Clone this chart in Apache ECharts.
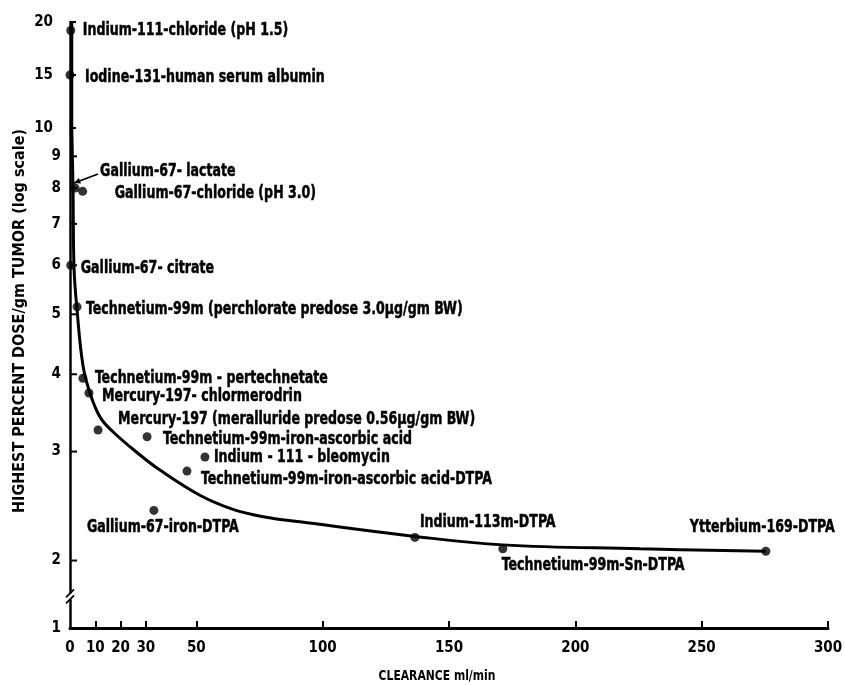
<!DOCTYPE html>
<html><head><meta charset="utf-8">
<script src="https://cdn.jsdelivr.net/npm/echarts@6/dist/echarts.min.js"></script>
<style>html,body{margin:0;padding:0;background:#fff}#c{width:845px;height:685px}</style>
</head><body><div id="c"></div>
<script>
// ---------------- data ----------------
const names = [
  'Indium-111-chloride (pH 1.5)',
  'Iodine-131-human serum albumin',
  'Gallium-67- lactate',
  'Gallium-67-chloride (pH 3.0)',
  'Gallium-67- citrate',
  'Technetium-99m (perchlorate predose 3.0\u03bcg/gm BW)',
  'Technetium-99m - pertechnetate',
  'Mercury-197- chlormerodrin',
  'Mercury-197 (meralluride predose 0.56\u03bcg/gm BW)',
  'Technetium-99m-iron-ascorbic acid',
  'Indium - 111 - bleomycin',
  'Technetium-99m-iron-ascorbic acid-DTPA',
  'Gallium-67-iron-DTPA',
  'Indium-113m-DTPA',
  'Technetium-99m-Sn-DTPA',
  'Ytterbium-169-DTPA'
];
const clearance = [0.3, 0, 2, 5, 0.3, 2.8, 5.1, 7.5, 11.1, 30.5, 53.4, 46.3, 33.2, 136.5, 171.3, 275.4];
const dose      = [19.2, 15, 8.0, 7.9, 6.0, 5.14, 3.94, 3.73, 3.25, 3.17, 2.94, 2.79, 2.41, 2.18, 2.09, 2.07];

const curveX = [0.7, 0.7, 1.2, 1.6, 2.8, 5.1, 7.9, 11.9, 17, 26.5, 35.6, 51.4, 64.5, 77.6, 91, 135.7, 171.3, 225.6, 275.4];
const curveY = [20, 10, 7.94, 5.94, 5.08, 4.14, 3.73, 3.41, 3.23, 2.99, 2.80, 2.55, 2.42, 2.35, 2.31, 2.19, 2.12, 2.09, 2.07];

const xTickValues = [0, 10, 20, 30, 50, 100, 150, 200, 250, 300];
const yTicksUpper = [10, 15, 20];
const yTicksLower = [2, 3, 4, 5, 6, 7, 8, 9];
const yBottomLabel = '1';
const xAxisTitle = 'CLEARANCE ml/min';
const yAxisTitle = 'HIGHEST PERCENT DOSE/gm TUMOR (log scale)';

// ---------------- layout / style ----------------
const FONT = "'DejaVu Sans Condensed','DejaVu Sans',sans-serif";
const LABEL_FONT = 'bold 14px ' + FONT;
const labelOffsets = [
  [12, 0], [15, 3], [25, -16], [32, 2], [10, 3], [9, 3], [12, 0], [13, 4],
  [20, -10], [16, 3], [9, 1], [14, 8], [-67, 17], [5, -15], [-1, 17], [-76, -24]
];
const LOWER_MIN = 1.556, BREAK_VAL = 1.75, SPLIT = 10;

const chart = echarts.init(document.getElementById('c'), null, {renderer: 'canvas'});

function idxFor(upper) {
  const out = [];
  names.forEach((n, i) => { if ((dose[i] > SPLIT) === upper) out.push(i); });
  return out;
}
const upperIdx = idxFor(true), lowerIdx = idxFor(false);

function labelSeries(gi, idxs) {
  return {
    type: 'custom', xAxisIndex: gi, yAxisIndex: gi, silent: true, clip: false, z: 5,
    data: idxs.map(i => [clearance[i], dose[i]]),
    renderItem: (params, api) => {
      const i = idxs[params.dataIndex];
      const p = api.coord([api.value(0), api.value(1)]);
      return {type: 'text', x: p[0] + labelOffsets[i][0], y: p[1] + labelOffsets[i][1], scaleY: 1.22,
        style: {text: names[i], font: LABEL_FONT, fill: '#000', align: 'left', verticalAlign: 'middle',
          stroke: '#000', lineWidth: 0.4}};
    }
  };
}

const curveUpper = [], curveLower = [];
curveX.forEach((x, i) => {
  if (curveY[i] >= SPLIT) curveUpper.push([x, curveY[i]]);
  if (curveY[i] <= SPLIT) curveLower.push([x, curveY[i]]);
});

const tickFont = 'bold 15px ' + FONT;
const yLowerTickData = yTicksLower.map(v => ({value: [0, v], txt: String(v), tick: true}))
  .concat([{value: [0, LOWER_MIN], txt: yBottomLabel, tick: false}]);

const li = names.indexOf('Gallium-67- lactate');

chart.setOption({
  animation: false,
  backgroundColor: '#fff',
  grid: [
    {left: 70, top: 22, width: 758, height: 106, outerBoundsMode: 'none', containLabel: false},
    {left: 70, top: 128, width: 758, height: 500, outerBoundsMode: 'none', containLabel: false}
  ],
  xAxis: [
    {gridIndex: 0, type: 'value', min: 0, max: 300, show: false},
    {gridIndex: 1, type: 'value', min: 0, max: 300, position: 'bottom',
      axisLine: {show: true, onZero: false, lineStyle: {color: '#000', width: 3}},
      axisTick: {show: true, inside: true, length: 7, lineStyle: {color: '#000', width: 2},
        customValues: xTickValues.filter(v => v > 0)},
      axisLabel: {show: true, customValues: xTickValues, margin: 13, color: '#000',
        fontFamily: FONT, fontWeight: 'bold', fontSize: 15},
      splitLine: {show: false}}
  ],
  yAxis: [
    {gridIndex: 0, type: 'value', min: 10, max: 20,
      axisLine: {show: true, onZero: false, lineStyle: {color: '#000', width: 2.5}},
      axisTick: {show: true, inside: true, length: 6, lineStyle: {color: '#000', width: 2}, customValues: yTicksUpper},
      axisLabel: {show: true, customValues: yTicksUpper, margin: 17, color: '#000',
        fontFamily: FONT, fontWeight: 'bold', fontSize: 15},
      splitLine: {show: false}},
    {gridIndex: 1, type: 'log', min: LOWER_MIN, max: 10,
      axisLine: {show: true, onZero: false, lineStyle: {color: '#000', width: 2.5}},
      axisTick: {show: false}, axisLabel: {show: false}, splitLine: {show: false}, minorTick: {show: false}}
  ],
  graphic: [
    {type: 'text', x: 20, y: 321, rotation: Math.PI / 2,
      style: {text: yAxisTitle, fill: '#000', font: 'bold 16px ' + FONT, align: 'center', verticalAlign: 'middle'}},
    {type: 'text', x: 437, y: 676, scaleY: 1.15,
      style: {text: xAxisTitle, fill: '#000', font: 'bold 12px ' + FONT, align: 'center', verticalAlign: 'middle'}}
  ],
  series: [
    {type: 'line', xAxisIndex: 0, yAxisIndex: 0, data: curveUpper, showSymbol: false, smooth: false,
      lineStyle: {color: '#000', width: 3}, silent: true},
    {type: 'line', xAxisIndex: 1, yAxisIndex: 1, data: curveLower, showSymbol: false, smooth: 0.4,
      lineStyle: {color: '#000', width: 3}, silent: true},
    {type: 'scatter', xAxisIndex: 0, yAxisIndex: 0, data: upperIdx.map(i => [clearance[i], dose[i]]), symbolSize: 9,
      itemStyle: {color: '#000'}, clip: false},
    {type: 'scatter', xAxisIndex: 1, yAxisIndex: 1, data: lowerIdx.map(i => [clearance[i], dose[i]]), symbolSize: 9,
      itemStyle: {color: '#000'}, clip: false},
    labelSeries(0, upperIdx),
    labelSeries(1, lowerIdx),
    // y tick marks and labels on the log axis
    {type: 'custom', xAxisIndex: 1, yAxisIndex: 1, silent: true, clip: false,
      data: yLowerTickData,
      renderItem: (params, api) => {
        const d = yLowerTickData[params.dataIndex];
        const p = api.coord(d.value);
        const ch = [{type: 'text', x: p[0] - 9, y: p[1],
          style: {text: d.txt, align: 'right', verticalAlign: 'middle', font: tickFont, fill: '#000'}}];
        if (d.tick) ch.push({type: 'line', shape: {x1: p[0], y1: p[1], x2: p[0] + 7, y2: p[1]},
          style: {stroke: '#000', lineWidth: 2}});
        return {type: 'group', children: ch};
      }},
    // axis break symbol
    {type: 'custom', xAxisIndex: 1, yAxisIndex: 1, silent: true, clip: false,
      data: [[0, BREAK_VAL]],
      renderItem: (params, api) => {
        const p = api.coord([api.value(0), api.value(1)]);
        return {type: 'group', children: [
          {type: 'rect', shape: {x: p[0] - 3, y: p[1] - 3, width: 6, height: 6}, style: {fill: '#fff'}},
          {type: 'line', shape: {x1: p[0] - 4, y1: p[1] + 1, x2: p[0] + 4, y2: p[1] - 7}, style: {stroke: '#000', lineWidth: 1.8}},
          {type: 'line', shape: {x1: p[0] - 4, y1: p[1] + 7, x2: p[0] + 4, y2: p[1] - 1}, style: {stroke: '#000', lineWidth: 1.8}}
        ]};
      }},
    // arrow from the lactate label to its point
    {type: 'custom', xAxisIndex: 1, yAxisIndex: 1, silent: true, clip: false,
      data: [[clearance[li], dose[li]]],
      renderItem: (params, api) => {
        const p = api.coord([api.value(0), api.value(1)]);
        const x1 = p[0] + 23, y1 = p[1] - 14, x2 = p[0] - 1, y2 = p[1] - 5;
        const ang = Math.atan2(y2 - y1, x2 - x1), L = 7, W = 0.45;
        return {type: 'group', children: [
          {type: 'line', shape: {x1, y1, x2, y2}, style: {stroke: '#000', lineWidth: 1.8}},
          {type: 'polygon', shape: {points: [[x2, y2],
            [x2 - L * Math.cos(ang - W), y2 - L * Math.sin(ang - W)],
            [x2 - L * Math.cos(ang + W), y2 - L * Math.sin(ang + W)]]}, style: {fill: '#000'}}
        ]};
      }}
  ]
});
</script>
</body></html>
